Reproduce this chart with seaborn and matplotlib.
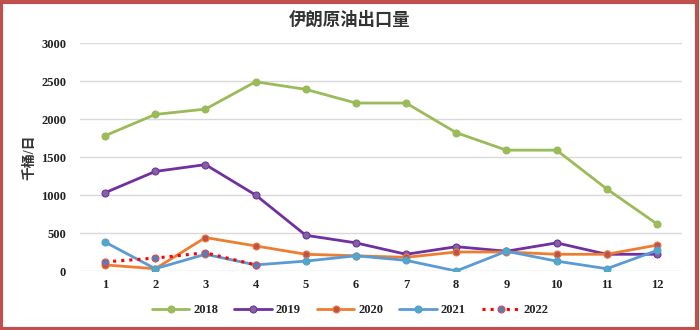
import matplotlib
matplotlib.use("Agg")
import matplotlib.pyplot as plt
import seaborn as sns
import pandas as pd
from matplotlib.patches import Rectangle

months = [1, 2, 3, 4, 5, 6, 7, 8, 9, 10, 11, 12]
y2018 = [1780, 2060, 2130, 2490, 2390, 2210, 2210, 1820, 1590, 1590, 1080, 620]
y2019 = [1030, 1310, 1400, 1000, 470, 370, 220, 320, 260, 370, 220, 220]
y2020 = [80, 30, 440, 330, 220, 200, 180, 250, 250, 220, 220, 340]
y2021 = [380, 30, 220, 80, 130, 200, 140, 0, 260, 130, 30, 270]
y2022 = [120, 170, 240, 80]
yticks = [0, 500, 1000, 1500, 2000, 2500, 3000]
title = "伊朗原油出口量"
ylabel = "千桶/日"

sns.set_theme(style="white")
plt.rcParams['font.family'] = ['Liberation Serif', 'Noto Sans CJK SC', 'DejaVu Sans']

fig = plt.figure(figsize=(7, 3.3), dpi=100)
ax = fig.add_axes([80/700, 1-271/330, 602/700, 228/330])

series = [
    ("2018", y2018, "#9BBB59", "#9BBB59", "#9BBB59", "-"),
    ("2019", y2019, "#7030A0", "#8064A2", "#7030A0", "-"),
    ("2020", y2020, "#ED7D31", "#C0504D", "#ED7D31", "-"),
    ("2021", y2021, "#5B9BD5", "#4BACC6", "#5B9BD5", "-"),
    ("2022", y2022, "#FF0000", "#4F81BD", "#E8464A", ":"),
]
for name, vals, lc, mc, mec, ls in series:
    df = pd.DataFrame({"x": [i - 1 for i in months[:len(vals)]], "y": vals})
    sns.lineplot(data=df, x="x", y="y", ax=ax, color=lc, linestyle=ls,
                 linewidth=2.0 if ls == "-" else 2.2, marker="o", markersize=5,
                 markerfacecolor=mc, markeredgecolor=mec, markeredgewidth=0.8,
                 label=name)

ax.set_xlim(-0.5, 11.5)
ax.set_ylim(0, 3000)
ax.set_yticks(yticks)
ax.set_yticklabels([str(v) for v in yticks], fontsize=9, fontweight="bold", color="#222222")
ax.set_xticks(range(12))
ax.set_xticklabels([str(m) for m in months], fontsize=9, fontweight="bold", color="#222222")
ax.tick_params(axis="both", length=0, pad=6)
ax.tick_params(axis="y", pad=10)
ax.grid(axis="y", color="#D9D9D9", linewidth=1)
for s in ax.spines.values():
    s.set_visible(False)
ax.set_xlabel("")
ax.set_ylabel(ylabel, fontsize=10, fontweight="bold", color="#333333")
ax.yaxis.set_label_coords(-0.072, 0.5)

fig.text(0.5, 1 - 20/330, title, ha="center", va="center", fontsize=12.5,
         fontweight="bold", color="#333333")

handles, labels = ax.get_legend_handles_labels()
ax.get_legend().remove()
leg = fig.legend(handles, labels, loc="center", bbox_to_anchor=(0.5, 1 - 310/330), ncol=5,
                 frameon=False, fontsize=9, handlelength=3.0, columnspacing=1.3,
                 handletextpad=0.3)
for t in leg.get_texts():
    t.set_fontweight("bold")
    t.set_color("#222222")

fig.patches.append(Rectangle((0.002, 0.004), 0.994, 0.99, transform=fig.transFigure,
                             fill=False, edgecolor="#C0504D", linewidth=3))

fig.savefig("out.png", dpi=100)
